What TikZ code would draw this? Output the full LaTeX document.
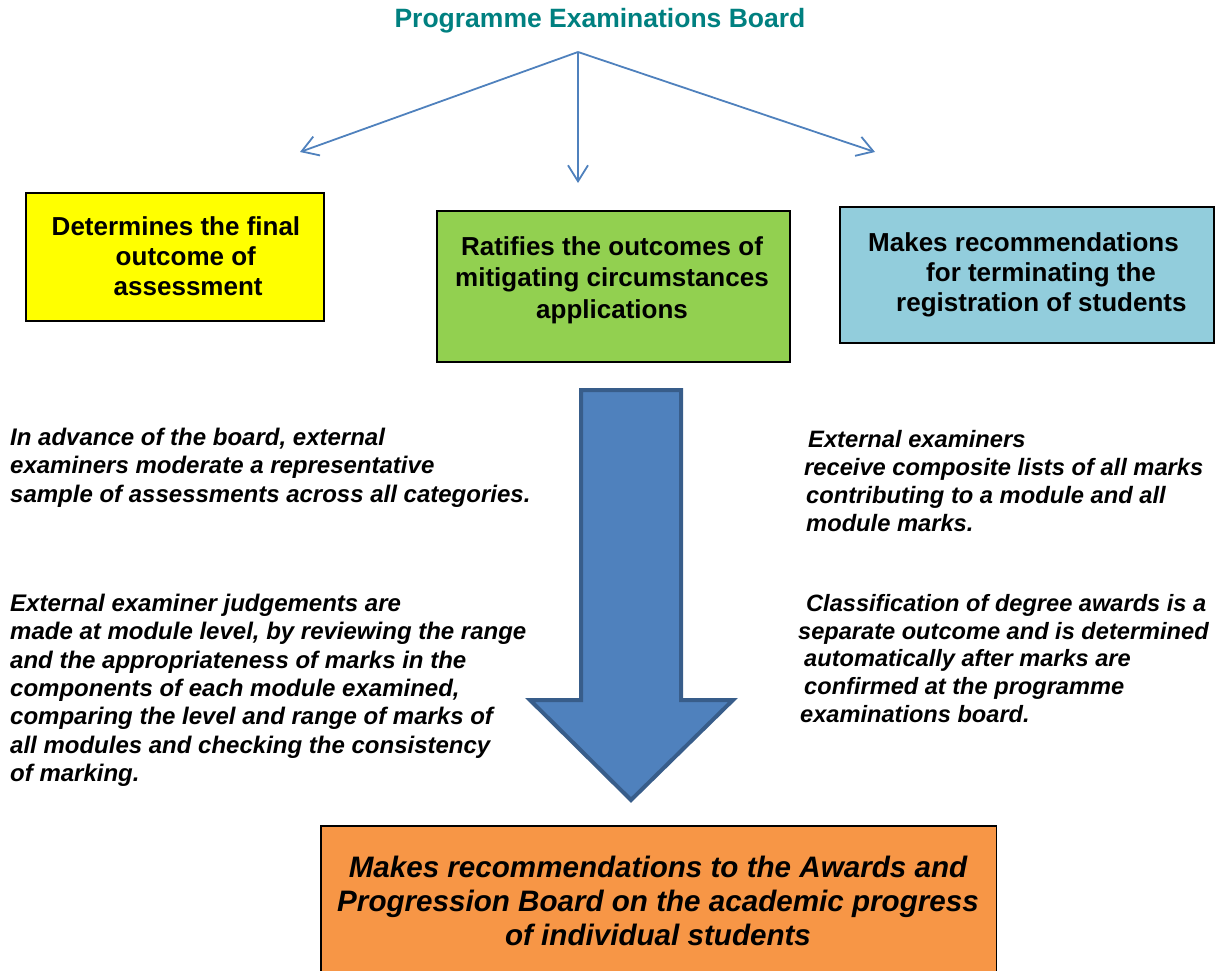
\documentclass[tikz,border=0pt]{standalone}
\usepackage{fontspec}
\setmainfont{Liberation Sans}
\usetikzlibrary{arrows.meta}
\definecolor{titleteal}{RGB}{0,128,128}
\definecolor{arrowblue}{RGB}{79,129,189}
\definecolor{arrowedge}{RGB}{56,93,138}
\definecolor{ybox}{RGB}{255,255,0}
\definecolor{gbox}{RGB}{146,208,80}
\definecolor{bbox}{RGB}{146,205,220}
\definecolor{obox}{RGB}{247,150,70}
\begin{document}
\begin{tikzpicture}[x=1pt,y=-1pt,
  box/.style={draw=black, line width=1.8pt, inner sep=0pt, anchor=north west},
  boxtext/.style={font=\bfseries\fontsize{26}{30}\selectfont, inner sep=0pt},
  note/.style={font=\bfseries\itshape\fontsize{24}{28.3}\selectfont, align=left, inner sep=0pt, anchor=north west},
  conn/.style={draw=arrowblue, line width=1.8pt, -{Straight Barb[length=16pt,width=20pt]}}
]
\useasboundingbox (0,0) rectangle (1223,971);

% title and connectors
\node[font=\bfseries\fontsize{26.5}{30}\selectfont, text=titleteal, inner sep=0pt] (title) at (600,21) {Programme Examinations Board};
\coordinate (apex) at (578,52);
\coordinate (tipL) at (300,152);
\coordinate (tipM) at (578,183);
\coordinate (tipR) at (875,152);
\draw[conn] (apex) -- (tipL);
\draw[conn] (apex) -- (tipM);
\draw[conn] (apex) -- (tipR);

% three boxes
\node[box, fill=ybox, minimum width=298pt, minimum height=128pt] (yel) at (25,192) {};
\node[boxtext, align=left] (yeltext) at (176,256) {Determines the final\\\hspace*{64pt}outcome of\\\hspace*{62pt}assessment};

\node[box, fill=gbox, minimum width=353pt, minimum height=151pt] (grn) at (436,210) {};
\node[boxtext, align=center, font=\bfseries\fontsize{26}{31.5}\selectfont] (grntext) at (612,280) {Ratifies the outcomes of\\mitigating circumstances\\applications};

\node[box, fill=bbox, minimum width=374pt, minimum height=136pt] (blu) at (839,206) {};
\node[boxtext, align=left, anchor=west] (blutext) at (868,275) {Makes recommendations\\\hspace*{58pt}for terminating the\\\hspace*{28pt}registration of students};

% big arrow
\draw[fill=arrowblue, draw=arrowedge, line width=4pt, line join=miter]
  (581,390) -- (681,390) -- (681,700) -- (733,700) -- (631,800) -- (530,700) -- (581,700) -- cycle;

% notes
\node[note] (noteL1) at (10,428) {In advance of the board, external\\examiners moderate a representative\\sample of assessments across all categories.};
\node[note] (noteL2) at (10,594) {External examiner judgements are\\made at module level, by reviewing the range\\and the appropriateness of marks in the\\components of each module examined,\\comparing the level and range of marks of\\all modules and checking the consistency\\of marking.};
\node[note, font=\bfseries\itshape\fontsize{23.7}{28}\selectfont] (noteR1) at (804,430) {\hspace*{4pt}External examiners\\receive composite lists of all marks\\\hspace*{2pt}contributing to a module and all\\\hspace*{2pt}module marks.};
\node[note, font=\bfseries\itshape\fontsize{23.6}{27.75}\selectfont] (noteR2) at (798,594) {\hspace*{8pt}Classification of degree awards is a\\separate outcome and is determined\\\hspace*{6pt}automatically after marks are\\\hspace*{6pt}confirmed at the programme\\\hspace*{2pt}examinations board.};

% bottom box
\node[fill=obox, draw=none, inner sep=0pt, anchor=north west, minimum width=675pt, minimum height=145pt] (org) at (321,826) {};
\draw[line width=1.8pt] (org.south west) -- (org.north west) -- (org.north east) -- (org.south east);
\node[inner sep=0pt, align=center, font=\bfseries\itshape\fontsize{29.6}{34}\selectfont] (orgtext) at (658,901) {Makes recommendations to the Awards and\\Progression Board on the academic progress\\of individual students};
\end{tikzpicture}
\end{document}
